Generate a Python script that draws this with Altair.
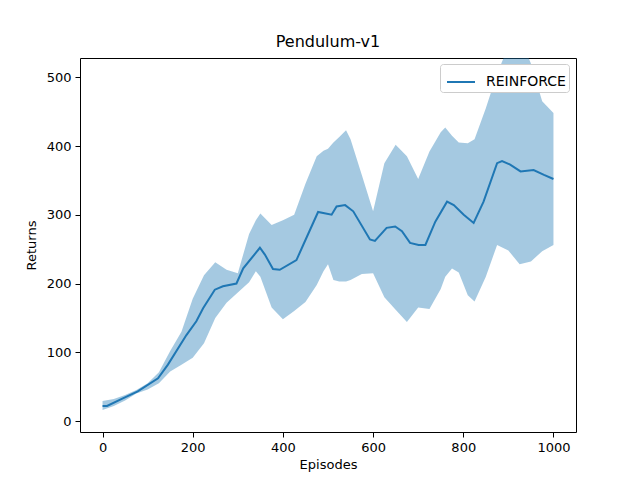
import altair as alt
import pandas as pd

# Shaded band (episode, lower, upper)
band_ep = [0, 25, 50, 75, 100, 125, 150, 175, 200, 225, 250, 275, 300, 325, 340, 350,
           375, 400, 425, 450, 475, 490, 500, 512, 525, 540, 550, 575, 600, 625, 650,
           675, 700, 725, 750, 760, 775, 790, 810, 825, 850, 875, 900, 925, 950, 975, 1000]
band_hi = [29, 32, 38, 45, 55, 71, 102, 130, 178, 212, 231, 220, 215, 272, 292, 302,
           285, 292, 300, 345, 385, 393, 396, 405, 413, 423, 410, 358, 305, 375, 402,
           385, 352, 392, 420, 427, 415, 405, 404, 410, 455, 505, 545, 560, 520, 465, 448]
band_lo = [16, 22, 30, 40, 46, 55, 72, 82, 92, 113, 150, 172, 187, 202, 218, 210,
           165, 148, 160, 173, 198, 218, 228, 205, 203, 203, 205, 214, 215, 180, 162,
           144, 165, 163, 192, 210, 222, 216, 183, 174, 210, 256, 248, 228, 232, 247, 256]

# Mean curve
mean_ep = [0, 10, 45, 78, 123, 145, 186, 208, 223, 249, 267, 297, 312, 349, 360, 378,
           393, 430, 445, 478, 508, 519, 538, 556, 593, 604, 630, 649, 664, 682, 701,
           716, 738, 764, 779, 801, 823, 845, 875, 886, 904, 927, 956, 979, 1000]
mean_val = [22, 22, 33, 43, 62, 82, 125, 145, 164, 191, 196, 200, 222, 252, 242, 221,
            220, 234, 256, 304, 300, 312, 314, 305, 264, 262, 281, 283, 276, 259, 256,
            256, 290, 319, 314, 300, 288, 319, 375, 378, 373, 363, 365, 358, 352]

series_name = "REINFORCE"

band = pd.DataFrame({"ep": band_ep, "lo": band_lo, "hi": band_hi})
mean = pd.DataFrame({"ep": mean_ep, "val": mean_val, "series": series_name})

FONT = "DejaVu Sans"

xscale = alt.Scale(domain=[-50, 1050], nice=False, zero=False)
yscale = alt.Scale(domain=[-16, 528], nice=False, zero=False)

xaxis = alt.Axis(values=[0, 200, 400, 600, 800, 1000], title="Episodes", grid=False, format="d")
yaxis = alt.Axis(values=[0, 100, 200, 300, 400, 500], title="Returns", grid=False, format="d")

area = alt.Chart(band).mark_area(color="#1f77b4", opacity=0.4, clip=True).encode(
    x=alt.X("ep:Q", scale=xscale, axis=xaxis),
    y=alt.Y("lo:Q", scale=yscale, axis=yaxis),
    y2="hi:Q",
)

line = alt.Chart(mean).mark_line(strokeWidth=2, clip=True).encode(
    x=alt.X("ep:Q", scale=xscale),
    y=alt.Y("val:Q", scale=yscale),
    color=alt.Color(
        "series:N",
        scale=alt.Scale(range=["#1f77b4"]),
        legend=alt.Legend(
            title=None,
            orient="none",
            legendX=360,
            legendY=6,
            symbolType="stroke",
            symbolSize=784,
            symbolStrokeWidth=2,
            labelFontSize=14,
            labelFont=FONT,
            labelColor="black",
            fillColor="white",
            strokeColor="#cccccc",
            cornerRadius=3,
            padding=3,
            labelOffset=10,
            symbolOffset=3,
        ),
    ),
)

chart = (
    alt.layer(area, line)
    .properties(
        width=496,
        height=374,
        title=alt.TitleParams("Pendulum-v1", fontSize=16, font=FONT, fontWeight="normal", offset=8, color="black"),
        autosize=alt.AutoSizeParams(type="none"),
        padding={"left": 72, "top": 50, "right": 56, "bottom": 40},
    )
    .configure_view(stroke="black", strokeWidth=1)
    .configure_axis(
        labelFont=FONT,
        labelFontSize=13,
        labelColor="black",
        titleFont=FONT,
        titleFontSize=13,
        titleFontWeight="normal",
        titleColor="black",
        tickColor="black",
        tickSize=5,
        labelPadding=4,
        domain=False,
    )
    .configure_axisY(titlePadding=8)
    .configure_axisX(titlePadding=4)
)

chart.save("out.html", embed_options={"renderer": "svg", "actions": False})
